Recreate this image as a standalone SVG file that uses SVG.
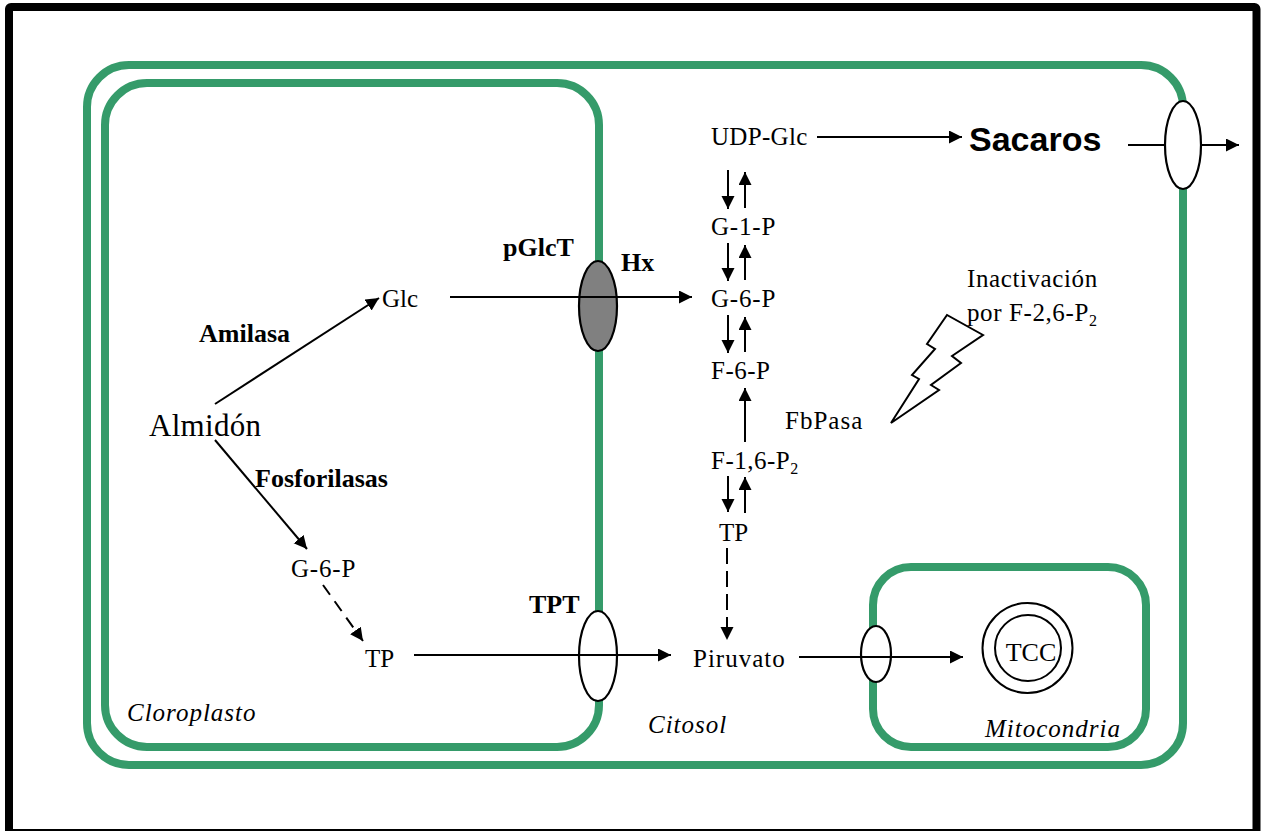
<svg xmlns="http://www.w3.org/2000/svg" width="1261" height="831" viewBox="0 0 1261 831">
<style>
text{font-family:"Liberation Serif","Times New Roman",serif;font-size:25px;fill:#000}
.s{font-size:16px}
.b{font-weight:bold;font-size:26px}
.i{font-style:italic;letter-spacing:1px}
.m{fill:none;stroke:#359b6a;stroke-width:8}
.c{fill:none;stroke:#000;stroke-width:2}
.d{stroke-dasharray:12 8}
.e{stroke-dasharray:16 7}
.o{fill:#fff;stroke:#000;stroke-width:2.2}
</style>
<defs>
<marker id="a" markerUnits="userSpaceOnUse" markerWidth="14" markerHeight="14" refX="13" refY="6.5" orient="auto"><path d="M0 0L13 6.500L0 13Z" fill="#000"/></marker>
<clipPath id="clip"><rect x="140" y="400" width="121" height="50"/></clipPath>
</defs>
<rect width="1261" height="831" fill="#fff"/>
<rect x="9" y="7" width="1247.500" height="826" rx="2" fill="none" stroke="#000" stroke-width="8"/>
<g id="celula"><rect class="m" x="87" y="65" width="1096" height="700" rx="42"/></g>
<g id="cloroplasto"><rect class="m" x="105" y="83" width="494" height="664" rx="42"/></g>
<g id="mitocondria"><rect class="m" x="873" y="567" width="273" height="180" rx="38"/></g>
<g id="conectores">
<path class="c" d="M215 404L379 298" marker-end="url(#a)"/>
<path class="c" d="M215 440L307 549" marker-end="url(#a)"/>
<path class="c d" d="M323 585L363 641" marker-end="url(#a)"/>
<path class="c" d="M450 297H692" marker-end="url(#a)"/>
<path class="c" d="M414 655H671" marker-end="url(#a)"/>
<path class="c" d="M817 137H962" marker-end="url(#a)"/>
<path class="c" d="M1128 145H1239" marker-end="url(#a)"/>
<path class="c" d="M799 657H963" marker-end="url(#a)"/>
<path class="c" d="M728 170V209" marker-end="url(#a)"/>
<path class="c" d="M745 208V172" marker-end="url(#a)"/>
<path class="c" d="M728 243V281" marker-end="url(#a)"/>
<path class="c" d="M745 280V245" marker-end="url(#a)"/>
<path class="c" d="M728 315V353" marker-end="url(#a)"/>
<path class="c" d="M745 352V317" marker-end="url(#a)"/>
<path class="c" d="M745 442V388" marker-end="url(#a)"/>
<path class="c" d="M728 476V512" marker-end="url(#a)"/>
<path class="c" d="M745 513V477" marker-end="url(#a)"/>
<path class="c e" d="M727 548V640" marker-end="url(#a)"/>
</g>
<g id="pGlcT"><ellipse cx="598" cy="306" rx="19" ry="45" fill="#808080" stroke="#000" stroke-width="2.200"/><path class="c" d="M579 297H617"/></g>
<g id="TPT"><ellipse class="o" cx="598" cy="656" rx="19" ry="45"/><path class="c" d="M579 655H617"/></g>
<g id="transportador-sacarosa"><ellipse class="o" cx="1183" cy="145" rx="18" ry="44"/></g>
<g id="transportador-mito"><ellipse class="o" cx="876" cy="654" rx="15" ry="28"/><path class="c" d="M861 657H891"/></g>
<g id="TCC"><circle cx="1027.500" cy="648" r="45" fill="none" stroke="#000" stroke-width="2"/><circle cx="1028" cy="648" r="33" fill="none" stroke="#000" stroke-width="2"/><text x="1031" y="661" text-anchor="middle" style="font-size:26px">TCC</text></g>
<g id="rayo"><path d="M891 423L919 379L912 375L935 349L927 344L947 315L983 335L952 356L961 363L931 385L939 390Z" fill="#fff" stroke="#000" stroke-width="2"/></g>
<g id="etiquetas">
<text x="711" y="145" letter-spacing=".3">UDP-Glc</text>
<text x="969" y="151" style="font-family:'Liberation Sans',Arial,sans-serif;font-weight:bold;font-size:34px">Sacaros</text>
<text x="711" y="235" letter-spacing=".8">G-1-P</text>
<text x="711" y="307" letter-spacing=".8">G-6-P</text>
<text x="711" y="379" letter-spacing=".5">F-6-P</text>
<text x="711" y="469" letter-spacing=".5">F-1,6-P<tspan class="s" dy="5">2</tspan></text>
<text x="719" y="541">TP</text>
<text x="693" y="667" letter-spacing="1">Piruvato</text>
<text x="785" y="429" letter-spacing="1">FbPasa</text>
<text x="967" y="287" letter-spacing=".6">Inactivación</text>
<text x="967" y="321" letter-spacing=".6">por F-2,6-P<tspan class="s" dy="5">2</tspan></text>
<text x="382" y="307">Glc</text>
<text x="149" y="436" clip-path="url(#clip)" style="font-size:31px" letter-spacing=".3">Almidón</text>
<text x="291" y="577" letter-spacing=".8">G-6-P</text>
<text x="365" y="667">TP</text>
<text class="b" x="199" y="342">Amilasa</text>
<text class="b" x="255" y="487">Fosforilasas</text>
<text class="b" x="503" y="256">pGlcT</text>
<text class="b" x="621" y="271">Hx</text>
<text class="b" x="529" y="613">TPT</text>
<text class="i" x="127" y="721">Cloroplasto</text>
<text class="i" x="648" y="733">Citosol</text>
<text class="i" x="985" y="737">Mitocondria</text>
</g>
</svg>
